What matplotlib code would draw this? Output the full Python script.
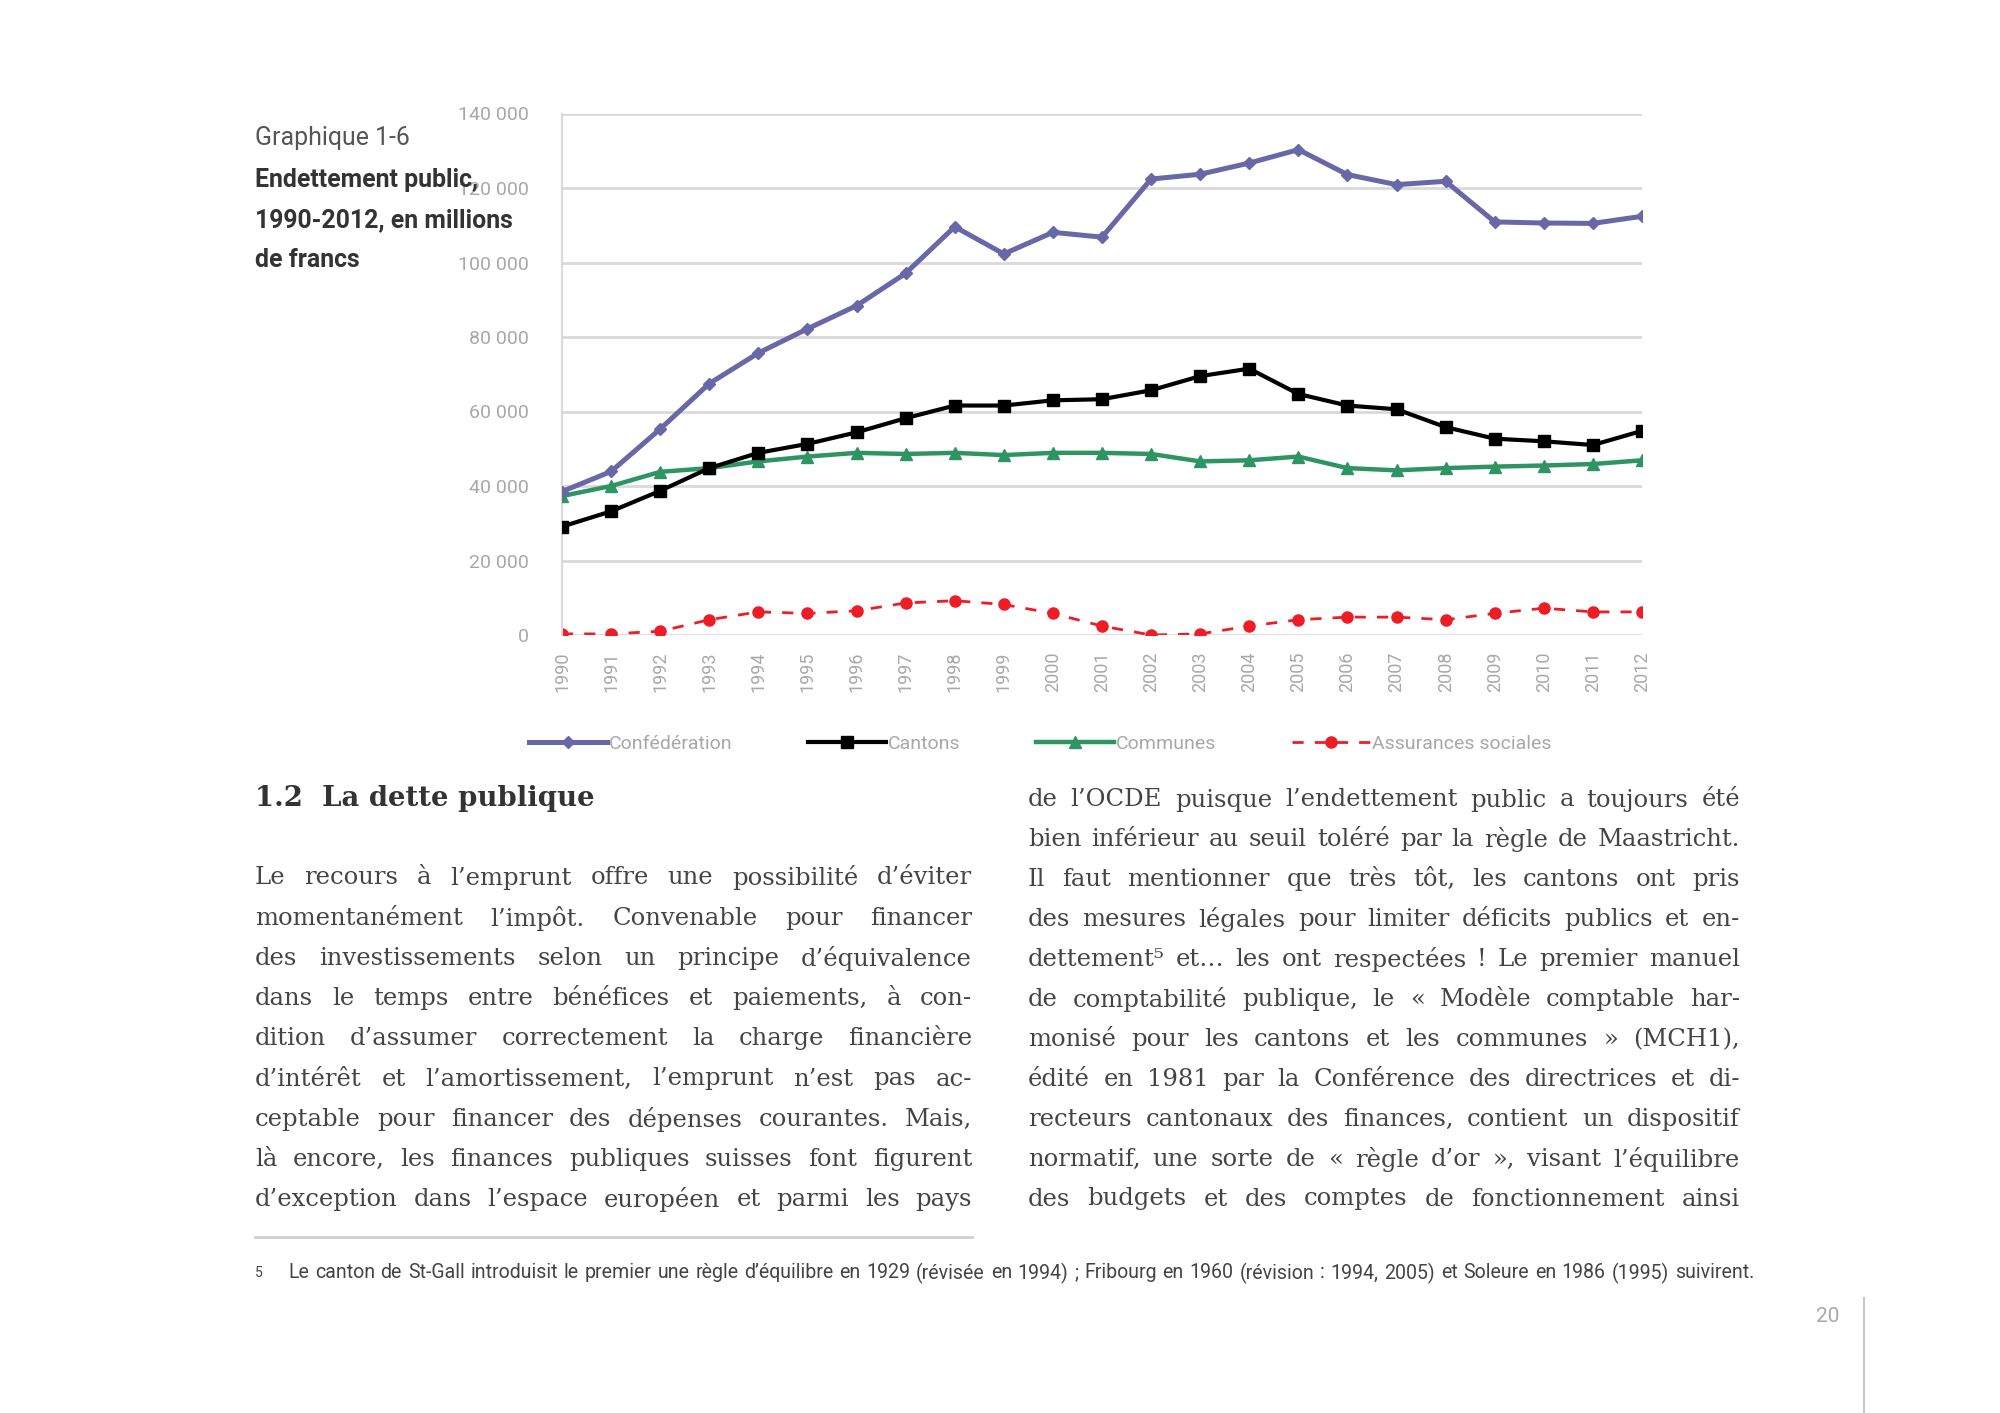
import matplotlib
matplotlib.use("Agg")
import matplotlib.pyplot as plt
from matplotlib.lines import Line2D

# Données (millions de francs)
annees = list(range(1990, 2013))
confederation = [38500, 43900, 55300, 67500, 75700, 82200, 88400, 97100, 109600, 102300,
                 108100, 106800, 122400, 123700, 126700, 130300, 123600, 120900, 121800,
                 110900, 110600, 110500, 112400]
cantons = [29100, 33200, 38700, 44800, 48900, 51300, 54400, 58200, 61600, 61600,
           63000, 63300, 65700, 69500, 71500, 64700, 61600, 60600, 55800, 52700,
           52000, 51000, 54800]
communes = [37300, 40000, 43800, 44800, 46600, 47900, 48900, 48600, 48900, 48300,
            48900, 48900, 48600, 46600, 46900, 47900, 44800, 44200, 44800, 45200,
            45500, 45900, 46900]
assurances = [300, 300, 1000, 4100, 6200, 5800, 6500, 8600, 9200, 8200,
              5800, 2400, 0, 300, 2400, 4100, 4800, 4800, 4100, 5800,
              7200, 6200, 6200]
series_noms = ["Confédération", "Cantons", "Communes", "Assurances sociales"]
graduations_y = [0, 20000, 40000, 60000, 80000, 100000, 120000, 140000]

titre_lignes = ["Endettement public,", "1990-2012, en millions", "de francs"]

colonne_1 = [
    "Le recours à l’emprunt offre une possibilité d’éviter",
    "momentanément l’impôt. Convenable pour financer",
    "des investissements selon un principe d’équivalence",
    "dans le temps entre bénéfices et paiements, à con-",
    "dition d’assumer correctement la charge financière",
    "d’intérêt et l’amortissement, l’emprunt n’est pas ac-",
    "ceptable pour financer des dépenses courantes. Mais,",
    "là encore, les finances publiques suisses font figurent",
    "d’exception dans l’espace européen et parmi les pays",
]
colonne_2 = [
    "de l’OCDE puisque l’endettement public a toujours été",
    "bien inférieur au seuil toléré par la règle de Maastricht.",
    "Il faut mentionner que très tôt, les cantons ont pris",
    "des mesures légales pour limiter déficits publics et en-",
    "dettement⁵ et… les ont respectées ! Le premier manuel",
    "de comptabilité publique, le « Modèle comptable har-",
    "monisé pour les cantons et les communes » (MCH1),",
    "édité en 1981 par la Conférence des directrices et di-",
    "recteurs cantonaux des finances, contient un dispositif",
    "normatif, une sorte de « règle d’or », visant l’équilibre",
    "des budgets et des comptes de fonctionnement ainsi",
]
note = ("Le canton de St-Gall introduisit le premier une règle d’équilibre en 1929 "
        "(révisée en 1994) ; Fribourg en 1960 (révision : 1994, 2005) et Soleure "
        "en 1986 (1995) suivirent.")

W, H = 2000, 1413
fig = plt.figure(figsize=(W / 100, H / 100), dpi=100)
renderer = fig.canvas.get_renderer()

SANS = "Roboto"
SERIF = "DejaVu Serif"


def fx(px):
    return px / W


def fy(py):
    return 1 - py / H


def largeur(texte, taille, **kw):
    t = fig.text(0, 0, texte, fontsize=taille, **kw)
    w = t.get_window_extent(renderer).width
    t.remove()
    return w


def taille_ajustee(lignes, cible, **kw):
    # taille de police telle que la ligne la plus longue tienne dans la cible
    plus_large = max(largeur(l, 10, **kw) for l in lignes)
    return 10 * cible / plus_large


def justifier(texte, x0, x1, y, **kw):
    # place chaque mot pour que la ligne occupe toute la largeur
    mots = texte.split(" ")
    objets = [fig.text(0, fy(y), m, va="center", ha="left", **kw) for m in mots]
    largeurs = [o.get_window_extent(renderer).width for o in objets]
    espace = (x1 - x0 - sum(largeurs)) / max(len(mots) - 1, 1)
    x = x0
    for o, lw in zip(objets, largeurs):
        o.set_x(fx(x))
        x += lw + espace


# Graphique
ax = fig.add_axes([fx(562), fy(635), fx(1642 - 562), (635 - 113.5) / H])
ax.plot(annees, confederation, color="#6868A8", lw=3.6, marker="D", ms=6.5, zorder=5)
ax.plot(annees, cantons, color="black", lw=3, marker="s", ms=8, zorder=4)
ax.plot(annees, communes, color="#2E9461", lw=3.2, marker="^", ms=9, zorder=3)
ax.plot(annees, assurances, color="#EE1C25", lw=2, ls=(0, (4, 4)), marker="o", ms=8, zorder=2)

ax.set_xlim(1990, 2012)
ax.set_ylim(0, 140000)
ax.set_yticks(graduations_y)
ax.set_yticklabels([f"{v:,}".replace(",", " ") for v in graduations_y],
                   fontfamily=SANS, fontsize=14, color="#a8a8a8")
ax.set_xticks(annees)
ax.set_xticklabels([str(a) for a in annees], rotation=90, fontfamily=SANS,
                   fontsize=13, color="#a8a8a8")
ax.tick_params(length=0)
ax.tick_params(axis="y", pad=24)
ax.tick_params(axis="x", pad=12)
ax.grid(axis="y", color="#d9d9d9", lw=2)
ax.set_axisbelow(True)
for cote in ["top", "right", "bottom"]:
    ax.spines[cote].set_visible(False)
ax.spines["left"].set_color("#d9d9d9")
ax.spines["left"].set_linewidth(1.5)

poignees = [
    Line2D([], [], color="#6868A8", lw=3.6, marker="D", ms=6.5),
    Line2D([], [], color="black", lw=3, marker="s", ms=8),
    Line2D([], [], color="#2E9461", lw=3.2, marker="^", ms=9),
    Line2D([], [], color="#EE1C25", lw=2, ls=(0, (4, 4)), marker="o", ms=8),
]
leg = fig.legend(poignees, series_noms, loc="center", bbox_to_anchor=(fx(1040), fy(744)),
                 ncol=4, frameon=False, handlelength=4.0, handletextpad=0.1,
                 columnspacing=3.9, prop={"family": SANS, "size": 14})
for t in leg.get_texts():
    t.set_color("#a8a8a8")

# Titre à gauche
t_titre = taille_ajustee(["1990-2012, en millions"], 259, fontfamily=SANS, fontweight="bold")
fig.text(fx(255), fy(138), "Graphique 1-6", fontfamily=SANS,
         fontsize=t_titre, color="#555555", va="center")
for i, ligne in enumerate(titre_lignes):
    fig.text(fx(255), fy(180 + i * 40), ligne, fontfamily=SANS,
             fontweight="bold", fontsize=t_titre, color="#333333", va="center")

# Texte courant
t_inter = taille_ajustee(["1.2  La dette publique"], 341, fontfamily=SERIF, fontweight="bold")
fig.text(fx(255), fy(799), "1.2  La dette publique", fontfamily=SERIF,
         fontweight="bold", fontsize=t_inter, color="#333333", va="center")
t_corps = 0.97 * taille_ajustee(colonne_1 + colonne_2, 715, fontfamily=SERIF)
corps = dict(fontfamily=SERIF, fontsize=t_corps, color="#444444")
for i, ligne in enumerate(colonne_1):
    justifier(ligne, 255, 972, 878 + i * 40.2, **corps)
for i, ligne in enumerate(colonne_2):
    justifier(ligne, 1028, 1740, 800 + i * 39.9, **corps)

# Note de bas de page
fig.add_artist(Line2D([fx(255), fx(972)], [fy(1237), fy(1237)], color="#d0d0d0", lw=2))
fig.text(fx(255), fy(1273), "5", fontfamily=SANS, fontsize=10,
         color="#444444", va="center")
t_note = taille_ajustee([note], 1440, fontfamily=SANS)
justifier(note, 288, 1754, 1273, fontfamily=SANS, fontsize=t_note, color="#444444")

# Numéro de page
fig.add_artist(Line2D([fx(1864), fx(1864)], [fy(1298), fy(1413)], color="#c8c8c8", lw=1.5))
fig.text(fx(1828), fy(1317), "20", fontfamily=SANS, fontsize=15,
         color="#a8a8a8", ha="center", va="center")

fig.savefig("out.png", dpi=100, facecolor="white")
